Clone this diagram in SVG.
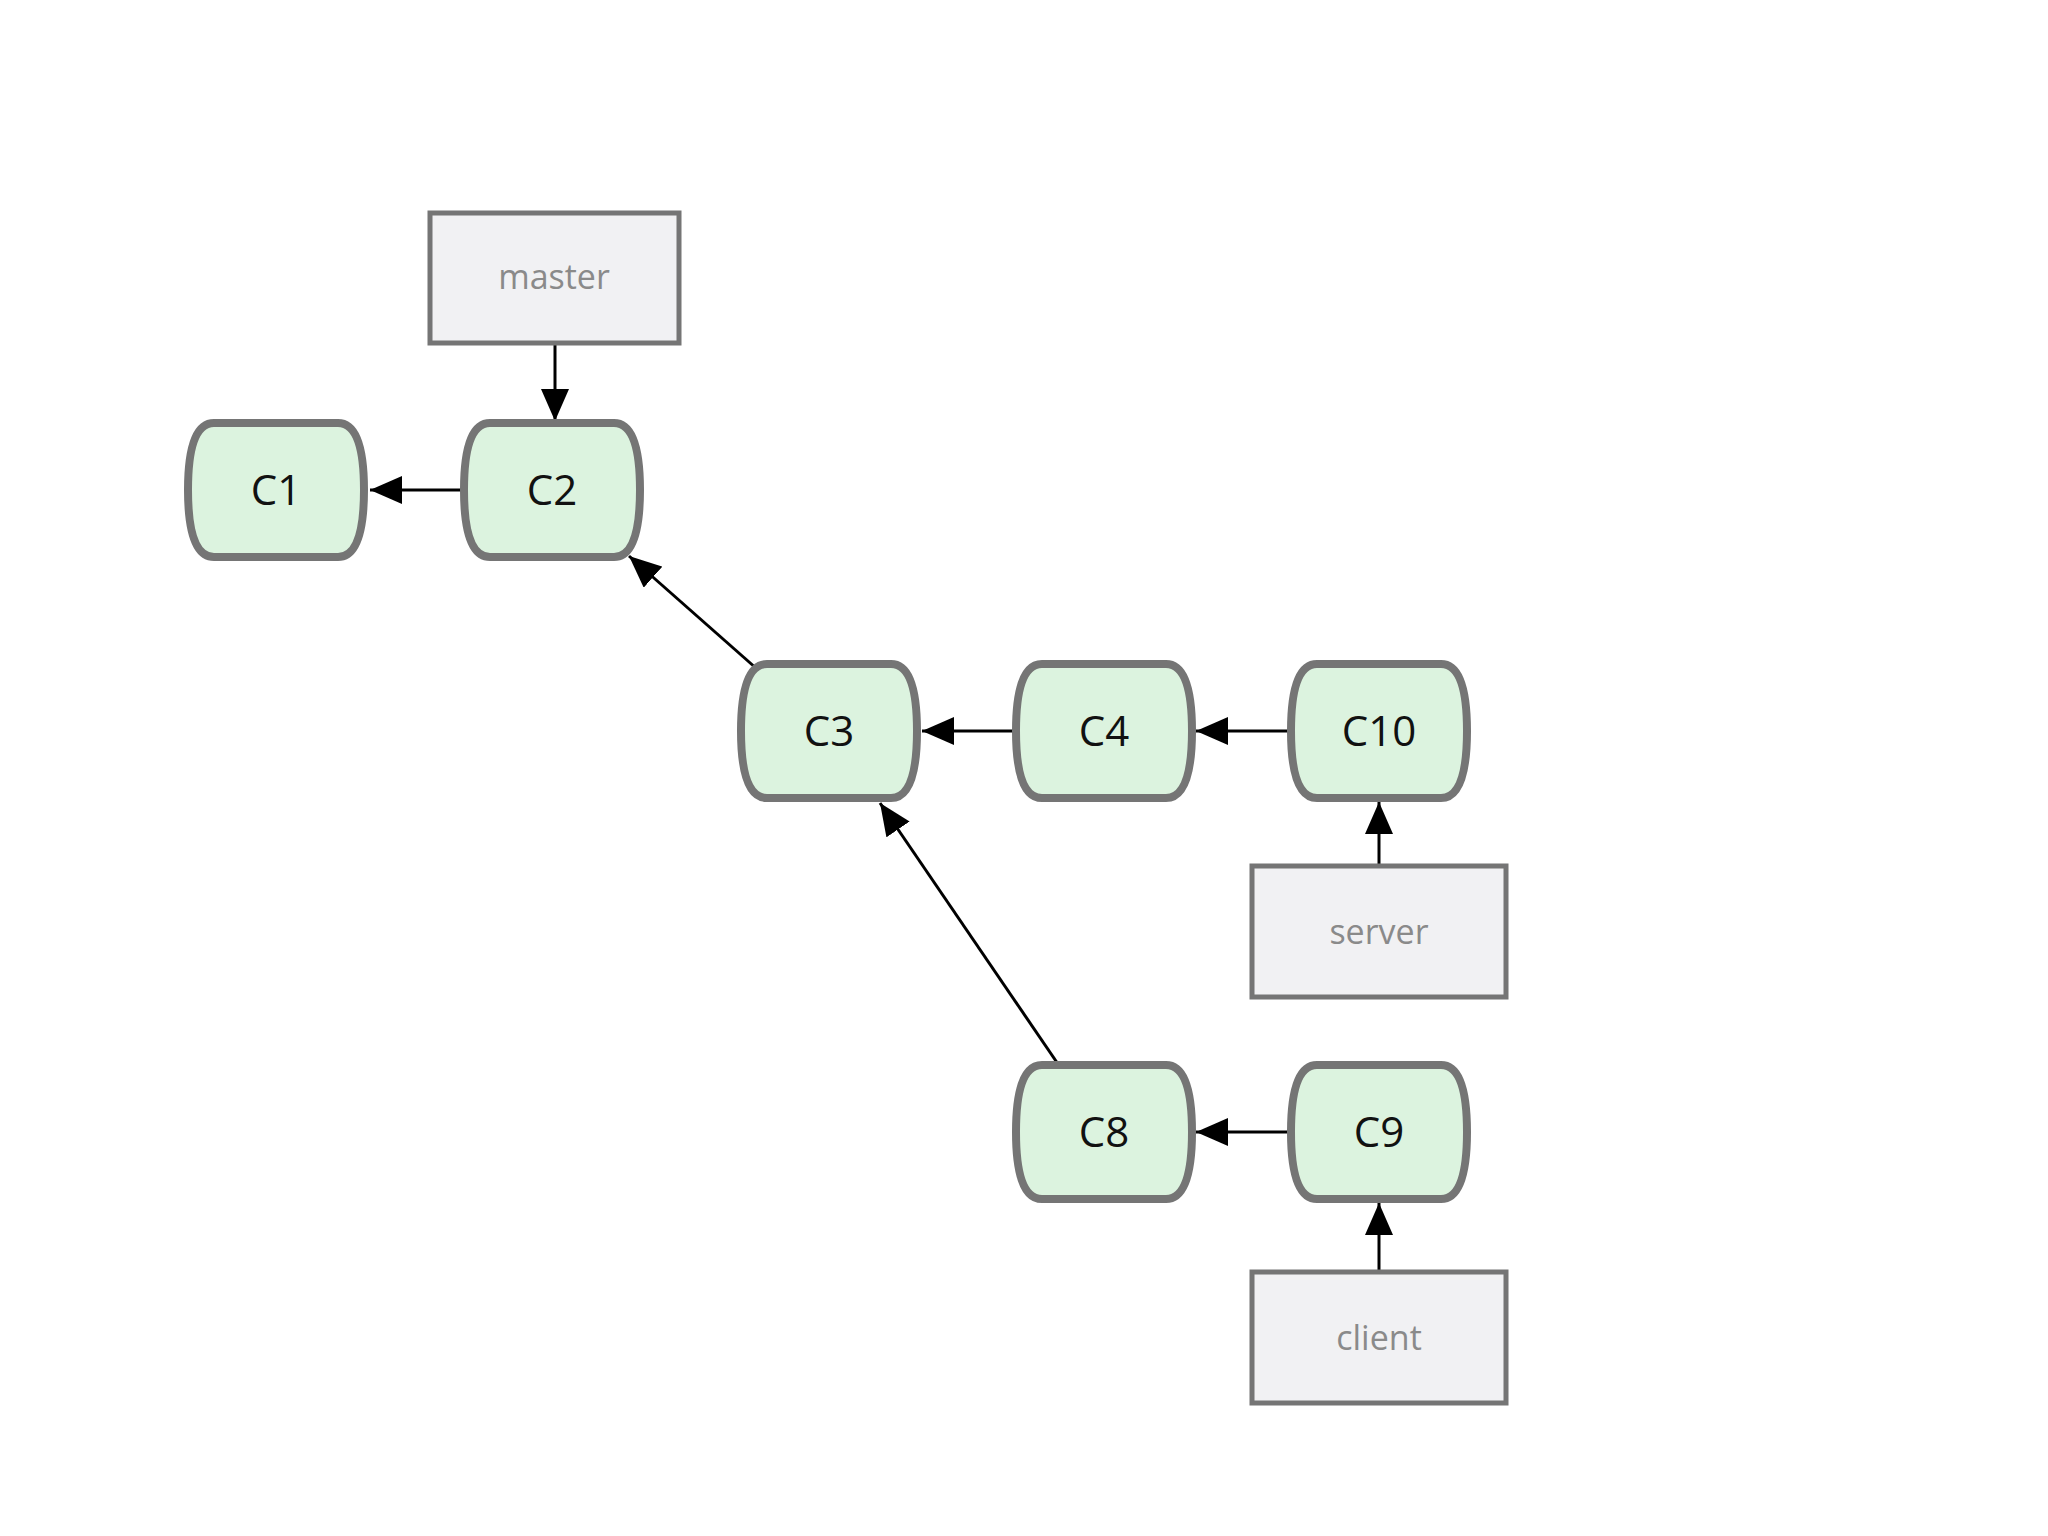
<svg xmlns="http://www.w3.org/2000/svg" width="2048" height="1536" viewBox="0 0 2048 1536">
<style>
.c path{fill:#dcf3df;stroke:#757575;stroke-width:8}
.c text{font-family:"Open Sans","DejaVu Sans",sans-serif;font-size:42px;fill:#111;text-anchor:middle}
.b rect{fill:#f1f1f3;stroke:#757575;stroke-width:5}
.b text{font-family:"Open Sans","DejaVu Sans",sans-serif;font-size:34px;fill:#8a8a8a;text-anchor:middle}
#edges line{stroke:#000;stroke-width:3;marker-end:url(#ah)}
</style>
<defs>
<marker id="ah" markerUnits="userSpaceOnUse" markerWidth="34" markerHeight="28" refX="32" refY="14" orient="auto"><path d="M0,0 L32,14 L0,28 Z" fill="#000"/></marker>
<path id="n" d="M-62,-67 H62 Q88,-67 88,0 Q88,67 62,67 H-62 Q-88,67 -88,0 Q-88,-67 -62,-67 Z"/>
</defs>
<rect width="2048" height="1536" fill="#fff"/>
<g id="edges">
<line x1="464" y1="490" x2="370" y2="490"/>
<line x1="555" y1="343" x2="555" y2="421"/>
<line x1="757" y1="669" x2="629" y2="556"/>
<line x1="1016" y1="731" x2="922" y2="731"/>
<line x1="1290" y1="731" x2="1196" y2="731"/>
<line x1="1379" y1="866" x2="1379" y2="802"/>
<line x1="1058" y1="1064" x2="880" y2="803"/>
<line x1="1290" y1="1132" x2="1196" y2="1132"/>
<line x1="1379" y1="1272" x2="1379" y2="1203"/>
</g>
<g id="master" class="b"><rect x="430" y="213" width="249" height="130"/><text x="554" y="289">master</text></g>
<g id="server" class="b"><rect x="1252" y="866" width="254" height="131"/><text x="1379" y="944">server</text></g>
<g id="client" class="b"><rect x="1252" y="1272" width="254" height="131"/><text x="1379" y="1350">client</text></g>
<g id="C1" class="c" transform="translate(276,490)"><use href="#n"/><path d="M-62,-67 H62 Q88,-67 88,0 Q88,67 62,67 H-62 Q-88,67 -88,0 Q-88,-67 -62,-67 Z"/><text y="15">C1</text></g>
<g id="C2" class="c" transform="translate(552,490)"><path d="M-62,-67 H62 Q88,-67 88,0 Q88,67 62,67 H-62 Q-88,67 -88,0 Q-88,-67 -62,-67 Z"/><text y="15">C2</text></g>
<g id="C3" class="c" transform="translate(829,731)"><path d="M-62,-67 H62 Q88,-67 88,0 Q88,67 62,67 H-62 Q-88,67 -88,0 Q-88,-67 -62,-67 Z"/><text y="15">C3</text></g>
<g id="C4" class="c" transform="translate(1104,731)"><path d="M-62,-67 H62 Q88,-67 88,0 Q88,67 62,67 H-62 Q-88,67 -88,0 Q-88,-67 -62,-67 Z"/><text y="15">C4</text></g>
<g id="C10" class="c" transform="translate(1379,731)"><path d="M-62,-67 H62 Q88,-67 88,0 Q88,67 62,67 H-62 Q-88,67 -88,0 Q-88,-67 -62,-67 Z"/><text y="15">C10</text></g>
<g id="C8" class="c" transform="translate(1104,1132)"><path d="M-62,-67 H62 Q88,-67 88,0 Q88,67 62,67 H-62 Q-88,67 -88,0 Q-88,-67 -62,-67 Z"/><text y="15">C8</text></g>
<g id="C9" class="c" transform="translate(1379,1132)"><path d="M-62,-67 H62 Q88,-67 88,0 Q88,67 62,67 H-62 Q-88,67 -88,0 Q-88,-67 -62,-67 Z"/><text y="15">C9</text></g>
</svg>
